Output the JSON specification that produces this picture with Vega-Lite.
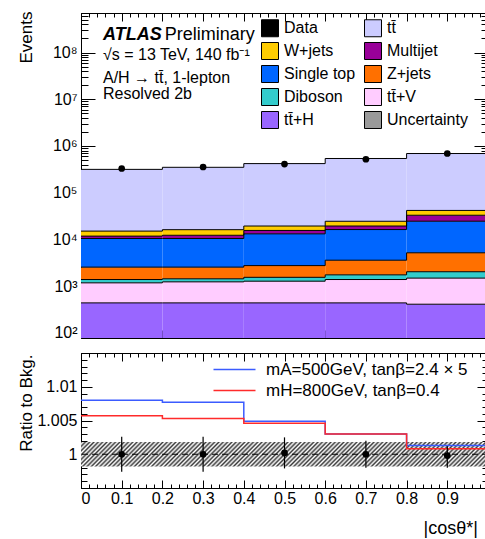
{
  "$schema": "https://vega.github.io/schema/vega-lite/v6.json",
  "background": "white",
  "padding": {"left": 16, "top": 10, "right": 0, "bottom": 0},
  "config": {
    "font": "Liberation Sans",
    "view": {"stroke": "black", "strokeWidth": 1},
    "axis": {"grid": false, "domain": false, "tickColor": "black", "tickWidth": 1, "labelFont": "Liberation Sans", "labelFontSize": 16, "labelColor": "black", "titleFont": "Liberation Sans", "titleFontSize": 17, "titleFontWeight": "normal", "titleColor": "black"},
    "legend": {"labelFont": "Liberation Sans", "labelColor": "black"}
  },
  "datasets": {
    "stack": [
      {"x0": 0, "x1": 0.2, "process": "tt\u0304+H", "lo": 1, "hi": 440},
      {"x0": 0, "x1": 0.2, "process": "tt\u0304+V", "lo": 440, "hi": 1180},
      {"x0": 0, "x1": 0.2, "process": "Diboson", "lo": 1180, "hi": 1390},
      {"x0": 0, "x1": 0.2, "process": "Z+jets", "lo": 1390, "hi": 2560},
      {"x0": 0, "x1": 0.2, "process": "Single top", "lo": 2560, "hi": 10500},
      {"x0": 0, "x1": 0.2, "process": "Multijet", "lo": 10500, "hi": 11800},
      {"x0": 0, "x1": 0.2, "process": "W+jets", "lo": 11800, "hi": 15100},
      {"x0": 0, "x1": 0.2, "process": "tt\u0304", "lo": 15100, "hi": 316000},
      {"x0": 0.2, "x1": 0.4, "process": "tt\u0304+H", "lo": 1, "hi": 440},
      {"x0": 0.2, "x1": 0.4, "process": "tt\u0304+V", "lo": 440, "hi": 1240},
      {"x0": 0.2, "x1": 0.4, "process": "Diboson", "lo": 1240, "hi": 1440},
      {"x0": 0.2, "x1": 0.4, "process": "Z+jets", "lo": 1440, "hi": 2560},
      {"x0": 0.2, "x1": 0.4, "process": "Single top", "lo": 2560, "hi": 10500},
      {"x0": 0.2, "x1": 0.4, "process": "Multijet", "lo": 10500, "hi": 12300},
      {"x0": 0.2, "x1": 0.4, "process": "W+jets", "lo": 12300, "hi": 16200},
      {"x0": 0.2, "x1": 0.4, "process": "tt\u0304", "lo": 16200, "hi": 350000},
      {"x0": 0.4, "x1": 0.6, "process": "tt\u0304+H", "lo": 1, "hi": 440},
      {"x0": 0.4, "x1": 0.6, "process": "tt\u0304+V", "lo": 440, "hi": 1280},
      {"x0": 0.4, "x1": 0.6, "process": "Diboson", "lo": 1280, "hi": 1550},
      {"x0": 0.4, "x1": 0.6, "process": "Z+jets", "lo": 1550, "hi": 2760},
      {"x0": 0.4, "x1": 0.6, "process": "Single top", "lo": 2760, "hi": 13200},
      {"x0": 0.4, "x1": 0.6, "process": "Multijet", "lo": 13200, "hi": 15600},
      {"x0": 0.4, "x1": 0.6, "process": "W+jets", "lo": 15600, "hi": 19400},
      {"x0": 0.4, "x1": 0.6, "process": "tt\u0304", "lo": 19400, "hi": 420000},
      {"x0": 0.6, "x1": 0.8, "process": "tt\u0304+H", "lo": 1, "hi": 440},
      {"x0": 0.6, "x1": 0.8, "process": "tt\u0304+V", "lo": 440, "hi": 1390},
      {"x0": 0.6, "x1": 0.8, "process": "Diboson", "lo": 1390, "hi": 1750},
      {"x0": 0.6, "x1": 0.8, "process": "Z+jets", "lo": 1750, "hi": 3600},
      {"x0": 0.6, "x1": 0.8, "process": "Single top", "lo": 3600, "hi": 16300},
      {"x0": 0.6, "x1": 0.8, "process": "Multijet", "lo": 16300, "hi": 19400},
      {"x0": 0.6, "x1": 0.8, "process": "W+jets", "lo": 19400, "hi": 24500},
      {"x0": 0.6, "x1": 0.8, "process": "tt\u0304", "lo": 24500, "hi": 540000},
      {"x0": 0.8, "x1": 1.0, "process": "tt\u0304+H", "lo": 1, "hi": 412},
      {"x0": 0.8, "x1": 1.0, "process": "tt\u0304+V", "lo": 412, "hi": 1490},
      {"x0": 0.8, "x1": 1.0, "process": "Diboson", "lo": 1490, "hi": 2040},
      {"x0": 0.8, "x1": 1.0, "process": "Z+jets", "lo": 2040, "hi": 5190},
      {"x0": 0.8, "x1": 1.0, "process": "Single top", "lo": 5190, "hi": 24600},
      {"x0": 0.8, "x1": 1.0, "process": "Multijet", "lo": 24600, "hi": 33000},
      {"x0": 0.8, "x1": 1.0, "process": "W+jets", "lo": 33000, "hi": 41800},
      {"x0": 0.8, "x1": 1.0, "process": "tt\u0304", "lo": 41800, "hi": 690000}
    ],
    "pts": [
      {"x": 0.1, "v": 330000},
      {"x": 0.3, "v": 355000},
      {"x": 0.5, "v": 410000},
      {"x": 0.7, "v": 520000},
      {"x": 0.9, "v": 690000}
    ],
    "ratio": [
      {"x": 0.1, "r": 1.0, "lo": 0.9974, "hi": 1.0026},
      {"x": 0.3, "r": 1.0, "lo": 0.9974, "hi": 1.0026},
      {"x": 0.5, "r": 1.0002, "lo": 0.9979, "hi": 1.0025},
      {"x": 0.7, "r": 1.0, "lo": 0.998, "hi": 1.002},
      {"x": 0.9, "r": 0.9998, "lo": 0.998, "hi": 1.0012}
    ],
    "band": [
      {"x0": 0, "x1": 1, "lo": 0.9982, "hi": 1.0018}
    ],
    "sig": [
      {"model": "mA=500GeV, tan\u03b2=2.4 \u00d7 5", "x0": 0, "x1": 0.2, "r": 1.008},
      {"model": "mA=500GeV, tan\u03b2=2.4 \u00d7 5", "x0": 0.2, "x1": 0.4, "r": 1.0077},
      {"model": "mA=500GeV, tan\u03b2=2.4 \u00d7 5", "x0": 0.4, "x1": 0.6, "r": 1.0049},
      {"model": "mA=500GeV, tan\u03b2=2.4 \u00d7 5", "x0": 0.6, "x1": 0.8, "r": 1.003},
      {"model": "mA=500GeV, tan\u03b2=2.4 \u00d7 5", "x0": 0.8, "x1": 1.0, "r": 1.0013},
      {"model": "mH=800GeV, tan\u03b2=0.4", "x0": 0, "x1": 0.2, "r": 1.0057},
      {"model": "mH=800GeV, tan\u03b2=0.4", "x0": 0.2, "x1": 0.4, "r": 1.0053},
      {"model": "mH=800GeV, tan\u03b2=0.4", "x0": 0.4, "x1": 0.6, "r": 1.0046},
      {"model": "mH=800GeV, tan\u03b2=0.4", "x0": 0.6, "x1": 0.8, "r": 1.003},
      {"model": "mH=800GeV, tan\u03b2=0.4", "x0": 0.8, "x1": 1.0, "r": 1.0008}
    ]
  },
  "spacing": 10,
  "resolve": {"scale": {"color": "independent", "stroke": "independent"}, "legend": {"color": "independent", "stroke": "independent"}},
  "vconcat": [
    {
      "width": 407,
      "height": 325,
      "resolve": {"axis": {"x": "independent", "y": "independent"}},
      "layer": [
        {
          "data": {"name": "stack"},
          "mark": {"type": "rect", "clip": true},
          "encoding": {
            "x": {"field": "x0", "type": "quantitative", "scale": {"domain": [0, 1], "nice": false, "zero": false},
                  "axis": {"orient": "bottom", "tickCount": 10, "tickSize": -8, "labels": false, "title": null}},
            "x2": {"field": "x1"},
            "y": {"field": "lo", "type": "quantitative", "scale": {"type": "log", "domain": [78, 700000000], "nice": false},
                  "axis": {"orient": "left", "values": [100, 1000, 10000, 100000, 1000000, 10000000, 100000000], "tickSize": -14, "labelPadding": 18,
                           "labelExpr": "'10' + substring('\u2070\u00b9\u00b2\u00b3\u2074\u2075\u2076\u2077\u2078\u2079', round(log(datum.value)/LN10), round(log(datum.value)/LN10) + 1)",
                           "title": "Events", "titleAngle": -90, "titleAlign": "right", "titleBaseline": "bottom", "titleX": -46, "titleY": -2}},
            "y2": {"field": "hi"},
            "color": {
              "field": "process", "type": "nominal",
              "scale": {
                "domain": ["Data", "W+jets", "Single top", "Diboson", "tt\u0304+H", "tt\u0304", "Multijet", "Z+jets", "tt\u0304+V", "Uncertainty"],
                "range": ["#000000", "#ffcc00", "#0066ff", "#33cccc", "#9966ff", "#ccccff", "#990099", "#ff7000", "#ffccff", "#9a9a9a"]
              },
              "legend": {
                "orient": "none", "legendX": 180, "legendY": 6, "title": null, "columns": 2,
                "symbolType": "square", "symbolSize": 289, "symbolStrokeColor": "black", "symbolStrokeWidth": 1, "symbolOpacity": 1,
                "labelFontSize": 16, "labelOffset": 5, "rowPadding": 1, "columnPadding": 6
              }
            }
          }
        },
        {
          "data": {"name": "stack"},
          "transform": [{"fold": ["x0", "x1"], "as": ["edge", "xv"]}],
          "mark": {"type": "line", "color": "black", "strokeWidth": 1, "clip": true},
          "encoding": {
            "x": {"field": "xv", "type": "quantitative", "axis": {"orient": "bottom", "tickCount": 50, "tickSize": -4, "labels": false, "title": null}},
            "y": {"field": "hi", "type": "quantitative", "axis": {"orient": "left", "tickCount": 60, "tickSize": -7, "labels": false, "title": null}},
            "detail": {"field": "process"},
            "order": [{"field": "xv", "type": "quantitative"}, {"field": "edge", "type": "nominal", "sort": "descending"}]
          }
        },
        {
          "data": {"name": "pts"},
          "mark": {"type": "circle", "color": "black", "size": 45, "opacity": 1},
          "encoding": {
            "x": {"field": "x", "type": "quantitative", "axis": {"orient": "top", "tickCount": 10, "tickSize": -8, "labels": false, "title": null}},
            "y": {"field": "v", "type": "quantitative", "axis": {"orient": "right", "values": [100, 1000, 10000, 100000, 1000000, 10000000, 100000000], "tickSize": -14, "labels": false, "title": null}}
          }
        },
        {
          "data": {"values": [{}]},
          "mark": {"type": "text", "text": "ATLAS", "align": "left", "baseline": "alphabetic", "fontSize": 18, "fontWeight": "bold", "fontStyle": "italic", "color": "black"},
          "encoding": {
            "x": {"datum": 0.054, "type": "quantitative", "axis": {"orient": "top", "tickCount": 50, "tickSize": -4, "labels": false, "title": null}},
            "y": {"datum": 188000000, "type": "quantitative", "axis": {"orient": "right", "tickCount": 60, "tickSize": -7, "labels": false, "title": null}}
          }
        },
        {
          "data": {"values": [{}]},
          "mark": {"type": "text", "text": "Preliminary", "align": "left", "baseline": "alphabetic", "fontSize": 18, "color": "black"},
          "encoding": {
            "x": {"datum": 0.206, "type": "quantitative", "axis": null},
            "y": {"datum": 188000000, "type": "quantitative", "axis": null}
          }
        },
        {
          "data": {"values": [{}]},
          "mark": {"type": "text", "text": "\u221as = 13 TeV, 140 fb\u207b\u00b9", "align": "left", "baseline": "alphabetic", "fontSize": 16, "color": "black"},
          "encoding": {
            "x": {"datum": 0.054, "type": "quantitative", "axis": null},
            "y": {"datum": 70000000, "type": "quantitative", "axis": null}
          }
        },
        {
          "data": {"values": [{}]},
          "mark": {"type": "text", "text": "A/H \u2192 tt\u0304, 1-lepton", "align": "left", "baseline": "alphabetic", "fontSize": 16, "color": "black"},
          "encoding": {
            "x": {"datum": 0.054, "type": "quantitative", "axis": null},
            "y": {"datum": 22300000, "type": "quantitative", "axis": null}
          }
        },
        {
          "data": {"values": [{}]},
          "mark": {"type": "text", "text": "Resolved 2b", "align": "left", "baseline": "alphabetic", "fontSize": 16, "color": "black"},
          "encoding": {
            "x": {"datum": 0.054, "type": "quantitative", "axis": null},
            "y": {"datum": 10300000, "type": "quantitative", "axis": null}
          }
        }
      ]
    },
    {
      "width": 407,
      "height": 135,
      "resolve": {"axis": {"x": "independent", "y": "independent"}},
      "layer": [
        {
          "data": {"name": "band"},
          "mark": {"type": "rect", "fill": {"gradient": "linear", "x1": 0, "y1": 0, "x2": 1.055, "y2": 0.0623, "stops": [
            {"offset": 0, "color": "#3a3a3a"}, {"offset": 0.005, "color": "#ffffff"}, {"offset": 0.01, "color": "#3a3a3a"}, {"offset": 0.015, "color": "#ffffff"},
            {"offset": 0.02, "color": "#3a3a3a"}, {"offset": 0.025, "color": "#ffffff"}, {"offset": 0.03, "color": "#3a3a3a"}, {"offset": 0.035, "color": "#ffffff"},
            {"offset": 0.04, "color": "#3a3a3a"}, {"offset": 0.045, "color": "#ffffff"}, {"offset": 0.05, "color": "#3a3a3a"}, {"offset": 0.055, "color": "#ffffff"},
            {"offset": 0.06, "color": "#3a3a3a"}, {"offset": 0.065, "color": "#ffffff"}, {"offset": 0.07, "color": "#3a3a3a"}, {"offset": 0.075, "color": "#ffffff"},
            {"offset": 0.08, "color": "#3a3a3a"}, {"offset": 0.085, "color": "#ffffff"}, {"offset": 0.09, "color": "#3a3a3a"}, {"offset": 0.095, "color": "#ffffff"},
            {"offset": 0.1, "color": "#3a3a3a"}, {"offset": 0.105, "color": "#ffffff"}, {"offset": 0.11, "color": "#3a3a3a"}, {"offset": 0.115, "color": "#ffffff"},
            {"offset": 0.12, "color": "#3a3a3a"}, {"offset": 0.125, "color": "#ffffff"}, {"offset": 0.13, "color": "#3a3a3a"}, {"offset": 0.135, "color": "#ffffff"},
            {"offset": 0.14, "color": "#3a3a3a"}, {"offset": 0.145, "color": "#ffffff"}, {"offset": 0.15, "color": "#3a3a3a"}, {"offset": 0.155, "color": "#ffffff"},
            {"offset": 0.16, "color": "#3a3a3a"}, {"offset": 0.165, "color": "#ffffff"}, {"offset": 0.17, "color": "#3a3a3a"}, {"offset": 0.175, "color": "#ffffff"},
            {"offset": 0.18, "color": "#3a3a3a"}, {"offset": 0.185, "color": "#ffffff"}, {"offset": 0.19, "color": "#3a3a3a"}, {"offset": 0.195, "color": "#ffffff"},
            {"offset": 0.2, "color": "#3a3a3a"}, {"offset": 0.205, "color": "#ffffff"}, {"offset": 0.21, "color": "#3a3a3a"}, {"offset": 0.215, "color": "#ffffff"},
            {"offset": 0.22, "color": "#3a3a3a"}, {"offset": 0.225, "color": "#ffffff"}, {"offset": 0.23, "color": "#3a3a3a"}, {"offset": 0.235, "color": "#ffffff"},
            {"offset": 0.24, "color": "#3a3a3a"}, {"offset": 0.245, "color": "#ffffff"}, {"offset": 0.25, "color": "#3a3a3a"}, {"offset": 0.255, "color": "#ffffff"},
            {"offset": 0.26, "color": "#3a3a3a"}, {"offset": 0.265, "color": "#ffffff"}, {"offset": 0.27, "color": "#3a3a3a"}, {"offset": 0.275, "color": "#ffffff"},
            {"offset": 0.28, "color": "#3a3a3a"}, {"offset": 0.285, "color": "#ffffff"}, {"offset": 0.29, "color": "#3a3a3a"}, {"offset": 0.295, "color": "#ffffff"},
            {"offset": 0.3, "color": "#3a3a3a"}, {"offset": 0.305, "color": "#ffffff"}, {"offset": 0.31, "color": "#3a3a3a"}, {"offset": 0.315, "color": "#ffffff"},
            {"offset": 0.32, "color": "#3a3a3a"}, {"offset": 0.325, "color": "#ffffff"}, {"offset": 0.33, "color": "#3a3a3a"}, {"offset": 0.335, "color": "#ffffff"},
            {"offset": 0.34, "color": "#3a3a3a"}, {"offset": 0.345, "color": "#ffffff"}, {"offset": 0.35, "color": "#3a3a3a"}, {"offset": 0.355, "color": "#ffffff"},
            {"offset": 0.36, "color": "#3a3a3a"}, {"offset": 0.365, "color": "#ffffff"}, {"offset": 0.37, "color": "#3a3a3a"}, {"offset": 0.375, "color": "#ffffff"},
            {"offset": 0.38, "color": "#3a3a3a"}, {"offset": 0.385, "color": "#ffffff"}, {"offset": 0.39, "color": "#3a3a3a"}, {"offset": 0.395, "color": "#ffffff"},
            {"offset": 0.4, "color": "#3a3a3a"}, {"offset": 0.405, "color": "#ffffff"}, {"offset": 0.41, "color": "#3a3a3a"}, {"offset": 0.415, "color": "#ffffff"},
            {"offset": 0.42, "color": "#3a3a3a"}, {"offset": 0.425, "color": "#ffffff"}, {"offset": 0.43, "color": "#3a3a3a"}, {"offset": 0.435, "color": "#ffffff"},
            {"offset": 0.44, "color": "#3a3a3a"}, {"offset": 0.445, "color": "#ffffff"}, {"offset": 0.45, "color": "#3a3a3a"}, {"offset": 0.455, "color": "#ffffff"},
            {"offset": 0.46, "color": "#3a3a3a"}, {"offset": 0.465, "color": "#ffffff"}, {"offset": 0.47, "color": "#3a3a3a"}, {"offset": 0.475, "color": "#ffffff"},
            {"offset": 0.48, "color": "#3a3a3a"}, {"offset": 0.485, "color": "#ffffff"}, {"offset": 0.49, "color": "#3a3a3a"}, {"offset": 0.495, "color": "#ffffff"},
            {"offset": 0.5, "color": "#3a3a3a"}, {"offset": 0.505, "color": "#ffffff"}, {"offset": 0.51, "color": "#3a3a3a"}, {"offset": 0.515, "color": "#ffffff"},
            {"offset": 0.52, "color": "#3a3a3a"}, {"offset": 0.525, "color": "#ffffff"}, {"offset": 0.53, "color": "#3a3a3a"}, {"offset": 0.535, "color": "#ffffff"},
            {"offset": 0.54, "color": "#3a3a3a"}, {"offset": 0.545, "color": "#ffffff"}, {"offset": 0.55, "color": "#3a3a3a"}, {"offset": 0.555, "color": "#ffffff"},
            {"offset": 0.56, "color": "#3a3a3a"}, {"offset": 0.565, "color": "#ffffff"}, {"offset": 0.57, "color": "#3a3a3a"}, {"offset": 0.575, "color": "#ffffff"},
            {"offset": 0.58, "color": "#3a3a3a"}, {"offset": 0.585, "color": "#ffffff"}, {"offset": 0.59, "color": "#3a3a3a"}, {"offset": 0.595, "color": "#ffffff"},
            {"offset": 0.6, "color": "#3a3a3a"}, {"offset": 0.605, "color": "#ffffff"}, {"offset": 0.61, "color": "#3a3a3a"}, {"offset": 0.615, "color": "#ffffff"},
            {"offset": 0.62, "color": "#3a3a3a"}, {"offset": 0.625, "color": "#ffffff"}, {"offset": 0.63, "color": "#3a3a3a"}, {"offset": 0.635, "color": "#ffffff"},
            {"offset": 0.64, "color": "#3a3a3a"}, {"offset": 0.645, "color": "#ffffff"}, {"offset": 0.65, "color": "#3a3a3a"}, {"offset": 0.655, "color": "#ffffff"},
            {"offset": 0.66, "color": "#3a3a3a"}, {"offset": 0.665, "color": "#ffffff"}, {"offset": 0.67, "color": "#3a3a3a"}, {"offset": 0.675, "color": "#ffffff"},
            {"offset": 0.68, "color": "#3a3a3a"}, {"offset": 0.685, "color": "#ffffff"}, {"offset": 0.69, "color": "#3a3a3a"}, {"offset": 0.695, "color": "#ffffff"},
            {"offset": 0.7, "color": "#3a3a3a"}, {"offset": 0.705, "color": "#ffffff"}, {"offset": 0.71, "color": "#3a3a3a"}, {"offset": 0.715, "color": "#ffffff"},
            {"offset": 0.72, "color": "#3a3a3a"}, {"offset": 0.725, "color": "#ffffff"}, {"offset": 0.73, "color": "#3a3a3a"}, {"offset": 0.735, "color": "#ffffff"},
            {"offset": 0.74, "color": "#3a3a3a"}, {"offset": 0.745, "color": "#ffffff"}, {"offset": 0.75, "color": "#3a3a3a"}, {"offset": 0.755, "color": "#ffffff"},
            {"offset": 0.76, "color": "#3a3a3a"}, {"offset": 0.765, "color": "#ffffff"}, {"offset": 0.77, "color": "#3a3a3a"}, {"offset": 0.775, "color": "#ffffff"},
            {"offset": 0.78, "color": "#3a3a3a"}, {"offset": 0.785, "color": "#ffffff"}, {"offset": 0.79, "color": "#3a3a3a"}, {"offset": 0.795, "color": "#ffffff"},
            {"offset": 0.8, "color": "#3a3a3a"}, {"offset": 0.805, "color": "#ffffff"}, {"offset": 0.81, "color": "#3a3a3a"}, {"offset": 0.815, "color": "#ffffff"},
            {"offset": 0.82, "color": "#3a3a3a"}, {"offset": 0.825, "color": "#ffffff"}, {"offset": 0.83, "color": "#3a3a3a"}, {"offset": 0.835, "color": "#ffffff"},
            {"offset": 0.84, "color": "#3a3a3a"}, {"offset": 0.845, "color": "#ffffff"}, {"offset": 0.85, "color": "#3a3a3a"}, {"offset": 0.855, "color": "#ffffff"},
            {"offset": 0.86, "color": "#3a3a3a"}, {"offset": 0.865, "color": "#ffffff"}, {"offset": 0.87, "color": "#3a3a3a"}, {"offset": 0.875, "color": "#ffffff"},
            {"offset": 0.88, "color": "#3a3a3a"}, {"offset": 0.885, "color": "#ffffff"}, {"offset": 0.89, "color": "#3a3a3a"}, {"offset": 0.895, "color": "#ffffff"},
            {"offset": 0.9, "color": "#3a3a3a"}, {"offset": 0.905, "color": "#ffffff"}, {"offset": 0.91, "color": "#3a3a3a"}, {"offset": 0.915, "color": "#ffffff"},
            {"offset": 0.92, "color": "#3a3a3a"}, {"offset": 0.925, "color": "#ffffff"}, {"offset": 0.93, "color": "#3a3a3a"}, {"offset": 0.935, "color": "#ffffff"},
            {"offset": 0.94, "color": "#3a3a3a"}, {"offset": 0.945, "color": "#ffffff"}, {"offset": 0.95, "color": "#3a3a3a"}, {"offset": 0.955, "color": "#ffffff"},
            {"offset": 0.96, "color": "#3a3a3a"}, {"offset": 0.965, "color": "#ffffff"}, {"offset": 0.97, "color": "#3a3a3a"}, {"offset": 0.975, "color": "#ffffff"},
            {"offset": 0.98, "color": "#3a3a3a"}, {"offset": 0.985, "color": "#ffffff"}, {"offset": 0.99, "color": "#3a3a3a"}, {"offset": 0.995, "color": "#ffffff"},
            {"offset": 1, "color": "#3a3a3a"}]}},
          "encoding": {
            "x": {"field": "x0", "type": "quantitative", "scale": {"domain": [0, 1], "nice": false, "zero": false},
                  "axis": {"orient": "bottom", "values": [0, 0.1, 0.2, 0.3, 0.4, 0.5, 0.6, 0.7, 0.8, 0.9], "tickSize": -8, "labelPadding": 10, "format": "~g",
                           "title": "|cos\u03b8*|", "titleFontSize": 18, "titleAlign": "left", "titleBaseline": "alphabetic", "titleX": 342, "titleY": 45}},
            "x2": {"field": "x1"},
            "y": {"field": "lo", "type": "quantitative", "scale": {"domain": [0.995, 1.015], "nice": false, "zero": false},
                  "axis": {"orient": "left", "values": [1, 1.005, 1.01], "tickSize": -11, "labelPadding": 15, "format": "~g",
                           "title": "Ratio to Bkg.", "titleAngle": -90, "titleAlign": "right", "titleBaseline": "bottom", "titleX": -46, "titleY": 1}},
            "y2": {"field": "hi"}
          }
        },
        {
          "data": {"values": [{}]},
          "mark": {"type": "rule", "strokeDash": [6, 4], "color": "black", "strokeWidth": 1},
          "encoding": {
            "y": {"datum": 1, "type": "quantitative", "axis": {"orient": "left", "tickCount": 20, "tickSize": -6, "labels": false, "title": null}}
          }
        },
        {
          "data": {"name": "sig"},
          "transform": [{"fold": ["x0", "x1"], "as": ["edge", "xv"]}],
          "mark": {"type": "line", "strokeWidth": 1.5, "clip": true},
          "encoding": {
            "x": {"field": "xv", "type": "quantitative", "axis": {"orient": "top", "tickCount": 10, "tickSize": -8, "labels": false, "title": null}},
            "y": {"field": "r", "type": "quantitative", "axis": {"orient": "right", "values": [1, 1.005, 1.01], "tickSize": -11, "labels": false, "title": null}},
            "stroke": {
              "field": "model", "type": "nominal",
              "scale": {"domain": ["mA=500GeV, tan\u03b2=2.4 \u00d7 5", "mH=800GeV, tan\u03b2=0.4"], "range": ["#3b5bff", "#ff2b2b"]},
              "legend": {"orient": "none", "legendX": 145, "legendY": 8, "title": null, "symbolType": "M-3,0H3", "symbolSize": 196, "symbolStrokeWidth": 1.5, "labelFontSize": 17, "labelOffset": 23, "labelLimit": 400, "rowPadding": 3}
            },
            "order": [{"field": "xv", "type": "quantitative"}, {"field": "edge", "type": "nominal", "sort": "descending"}]
          }
        },
        {
          "data": {"name": "ratio"},
          "mark": {"type": "rule", "color": "black", "strokeWidth": 1.2},
          "encoding": {
            "x": {"field": "x", "type": "quantitative", "axis": {"orient": "bottom", "tickCount": 50, "tickSize": -4, "labels": false, "title": null}},
            "y": {"field": "lo", "type": "quantitative", "axis": {"orient": "right", "tickCount": 20, "tickSize": -6, "labels": false, "title": null}},
            "y2": {"field": "hi"}
          }
        },
        {
          "data": {"name": "ratio"},
          "mark": {"type": "circle", "color": "black", "size": 45, "opacity": 1},
          "encoding": {
            "x": {"field": "x", "type": "quantitative", "axis": {"orient": "top", "tickCount": 50, "tickSize": -4, "labels": false, "title": null}},
            "y": {"field": "r", "type": "quantitative", "axis": null}
          }
        }
      ]
    }
  ]
}
